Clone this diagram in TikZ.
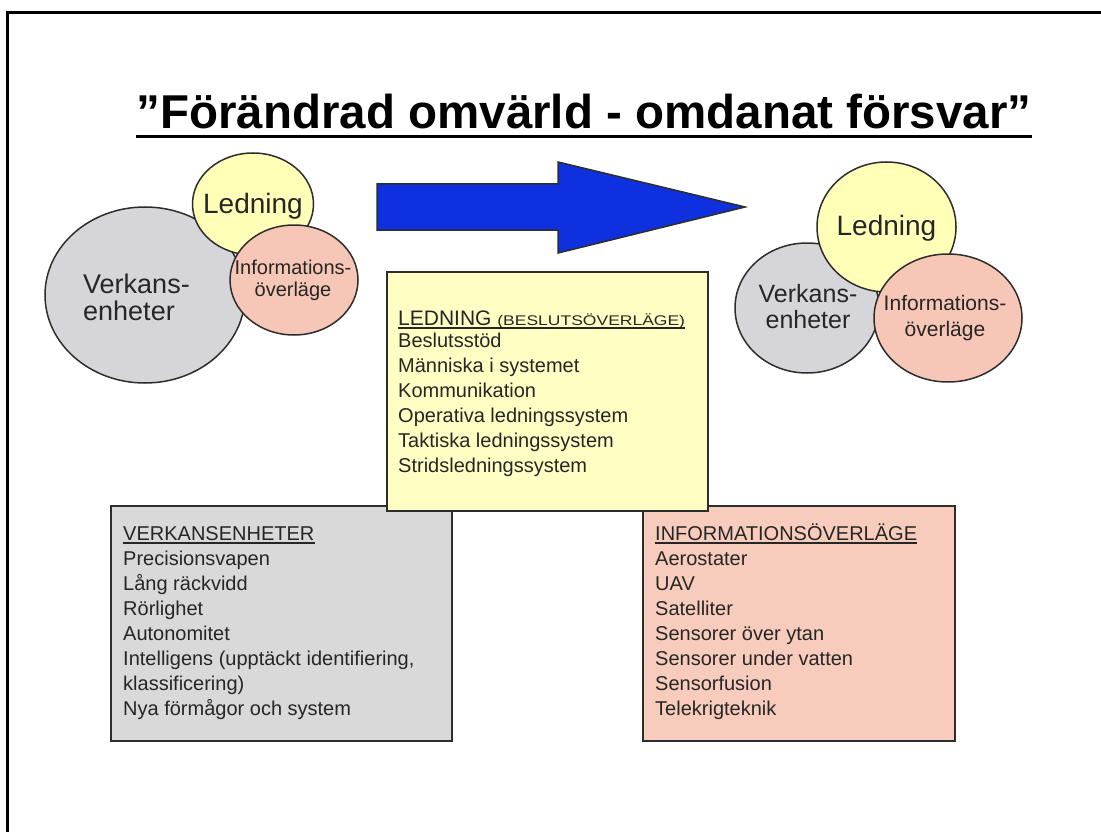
\documentclass[tikz,border=0pt]{standalone}
\usepackage{fontspec}
\setmainfont{Liberation Sans}
\usetikzlibrary{shapes.geometric}
\definecolor{grayE}{RGB}{214,214,218}
\definecolor{yellowE}{RGB}{255,255,184}
\definecolor{pinkE}{RGB}{246,198,182}
\definecolor{grayB}{RGB}{217,217,217}
\definecolor{yellowB}{RGB}{255,255,196}
\definecolor{pinkB}{RGB}{248,204,188}
\definecolor{arrowblue}{RGB}{14,48,222}
\definecolor{lineC}{RGB}{45,45,45}
\definecolor{txtC}{RGB}{38,38,38}
\tikzset{
  ell/.style={ellipse, draw=lineC, line width=1.5pt, inner sep=0pt},
  ebox/.style={rectangle, draw=lineC, line width=2pt, inner sep=0pt},
  etext/.style={inner sep=0pt, text=txtC, anchor=base},
  item/.style={inner sep=0pt, text=txtC, anchor=base west, font=\fontsize{20}{20}\selectfont},
  hdr/.style={inner sep=0pt, text=txtC, anchor=base west, font=\fontsize{20}{20}\selectfont},
}
\begin{document}
\begin{tikzpicture}[x=1pt,y=-1pt]
\useasboundingbox (0,0) rectangle (1101,832);
\fill[white] (0,0) rectangle (1101,832);
% frame
\draw[line width=3pt, black] (1101,13) -- (7,13) -- (7,832);
% title
\node[inner sep=0pt, anchor=base, font=\fontsize{47.5}{50}\selectfont\bfseries] (title) at (584,129) {”Förändrad omvärld - omdanat försvar”};
\draw[line width=3pt] ([yshift=-8pt]title.base west) -- ([yshift=-8pt]title.base east);

% left cluster
\node[ell, fill=grayE, minimum width=200pt, minimum height=176pt] (lgray) at (145,295) {};
\node[ell, fill=yellowE, minimum width=121pt, minimum height=102pt] (lyel) at (253,204) {};
\node[ell, fill=pinkE, minimum width=128pt, minimum height=110pt] (lpink) at (294,280) {};
\node[etext, anchor=base west, font=\fontsize{27}{27}\selectfont] (lgt1) at (83,293) {Verkans-};
\node[etext, anchor=base west, font=\fontsize{27}{27}\selectfont] (lgt2) at (83,320) {enheter};
\node[etext, font=\fontsize{28}{28}\selectfont] (lyt) at (253,214) {Ledning};
\node[etext, font=\fontsize{20}{20}\selectfont] (lpt1) at (293,274) {Informations-};
\node[etext, font=\fontsize{20}{20}\selectfont] (lpt2) at (293,296) {överläge};

% big arrow
\draw[fill=arrowblue, draw=lineC, line width=1.5pt, line join=miter]
  (377,184) -- (558,184) -- (558,162) -- (745,207) -- (558,253) -- (558,230) -- (377,230) -- cycle;

% right cluster
\node[ell, fill=grayE, minimum width=144pt, minimum height=130pt] (rgray) at (807,308) {};
\node[ell, fill=yellowE, minimum width=139pt, minimum height=130pt] (ryel) at (886.5,227) {};
\node[ell, fill=pinkE, minimum width=148pt, minimum height=128pt] (rpink) at (948,318) {};
\node[etext, font=\fontsize{25}{25}\selectfont] (rgt1) at (808,302) {Verkans-};
\node[etext, font=\fontsize{25}{25}\selectfont] (rgt2) at (808,328) {enheter};
\node[etext, font=\fontsize{28}{28}\selectfont] (ryt) at (886.5,235) {Ledning};
\node[etext, font=\fontsize{21}{21}\selectfont] (rpt1) at (945,310) {Informations-};
\node[etext, font=\fontsize{21}{21}\selectfont] (rpt2) at (945,336) {överläge};

% boxes
\node[ebox, fill=grayB, minimum width=341pt, minimum height=235pt] (gbox) at (281.5,623.5) {};
\node[ebox, fill=pinkB, minimum width=312pt, minimum height=235pt] (pbox) at (799,623.5) {};
\node[ebox, fill=yellowB, minimum width=321pt, minimum height=239pt] (ybox) at (547.5,391.5) {};

% yellow box text
\node[hdr, font=\fontsize{21}{21}\selectfont] (yh) at (398,325) {LEDNING\ {\fontsize{14}{14}\selectfont\scalebox{1.25}[1]{(BESLUTSÖVERLÄGE)}}};
\draw[line width=1.3pt, txtC] ([yshift=-3pt]yh.base west) -- ([yshift=-3pt]yh.base east);
\foreach \t [count=\i from 0] in {Beslutsstöd, Människa i systemet, Kommunikation, Operativa ledningssystem, Taktiska ledningssystem, Stridsledningssystem}
  \node[item] (yi\i) at (398,347+25*\i) {\t};

% gray box text
\node[hdr] (gh) at (123,540) {VERKANSENHETER};
\draw[line width=1.3pt, txtC] ([yshift=-3pt]gh.base west) -- ([yshift=-3pt]gh.base east);
\foreach \t [count=\i from 0] in {Precisionsvapen, Lång räckvidd, Rörlighet, Autonomitet, {Intelligens (upptäckt identifiering,}, klassificering), Nya förmågor och system}
  \node[item] (gi\i) at (123,565+25*\i) {\t};

% pink box text
\node[hdr] (ph) at (655,540) {INFORMATIONSÖVERLÄGE};
\draw[line width=1.3pt, txtC] ([yshift=-3pt]ph.base west) -- ([yshift=-3pt]ph.base east);
\foreach \t [count=\i from 0] in {Aerostater, UAV, Satelliter, Sensorer över ytan, Sensorer under  vatten, Sensorfusion, Telekrigteknik}
  \node[item] (pi\i) at (655,565+25*\i) {\t};
\end{tikzpicture}
\end{document}
